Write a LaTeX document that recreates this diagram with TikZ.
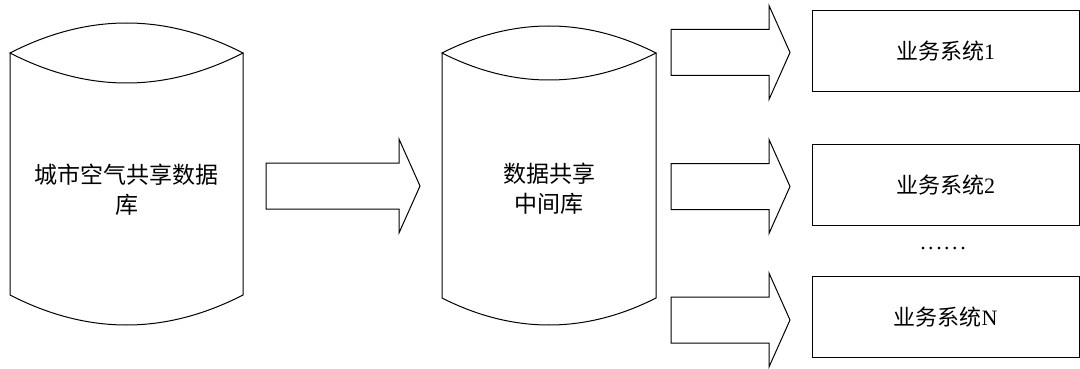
\documentclass[tikz,border=0pt]{standalone}
\usepackage{fontspec}
\setmainfont{Liberation Serif}
\newfontfamily\cjk{Noto Sans CJK SC}
\begin{document}
\begin{tikzpicture}[x=1pt,y=-1pt,
  line width=1pt,
  cyltext/.style={align=center,font=\cjk\fontsize{23}{30}\selectfont,inner sep=0pt},
  sysbox/.style={draw,minimum width=267pt,minimum height=81pt,inner sep=0pt,font=\fontsize{22}{26}\selectfont},
  blk/.style={draw,line join=miter}]
\useasboundingbox (0,0) rectangle (1080,369);
% cylinder 1
\draw (10,53) .. controls (88,13) and (165,13) .. (243,53)
      .. controls (165,93) and (88,93) .. (10,53) -- cycle;
\draw (10,53) -- (10,295) .. controls (88,335) and (165,335) .. (243,295) -- (243,53);
\node[cyltext] (cylA) at (126.5,190) {城市空气共享数据\\库};
% cylinder 2
\draw (442,53) .. controls (513,17) and (585,17) .. (656,53)
      .. controls (585,89) and (513,89) .. (442,53) -- cycle;
\draw (442,53) -- (442,298) .. controls (513,334) and (585,334) .. (656,298) -- (656,53);
\node[cyltext] (cylB) at (549,189) {数据共享\\中间库};
% systems
\node[sysbox] (s1) at (945.5,51.5) {{\cjk 业务系统}1};
\node[sysbox] (s2) at (945.5,185) {{\cjk 业务系统}2};
\node[sysbox] (sn) at (945.5,317) {{\cjk 业务系统}N};
\node[font=\fontsize{22}{24}\selectfont,inner sep=0pt] (dots) at (943,249)
  {.\kern2.5pt.\kern2.5pt.\kern2.5pt.\kern2.5pt.\kern2.5pt.};
% block arrows
\newcommand\blkarrow[3]{\draw[blk] (#1,#3-23) -- (#2-21,#3-23) -- (#2-21,#3-47) -- (#2,#3) -- (#2-21,#3+47) -- (#2-21,#3+23) -- (#1,#3+23) -- cycle;}
\blkarrow{266}{420}{186}
\blkarrow{671}{790}{52.5}
\blkarrow{671}{790}{186.5}
\blkarrow{671}{790}{320}
\end{tikzpicture}
\end{document}
